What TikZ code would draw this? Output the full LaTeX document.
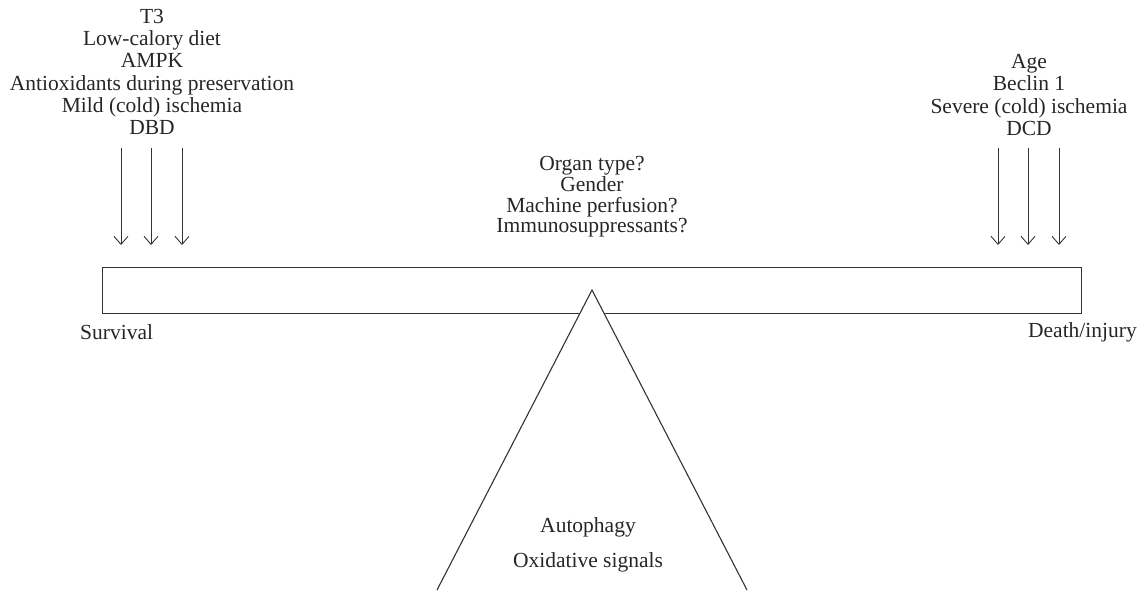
\documentclass[tikz,border=0pt]{standalone}
\usepackage{fontspec}
\setmainfont{Liberation Serif}
\usetikzlibrary{arrows.meta}
\tikzset{
  lbl/.style={align=center, inner sep=0pt, text=black!85, font=\fontsize{21.5}{22.2}\selectfont},
  pushar/.style={draw=black!80, line width=0.9pt, -{Straight Barb[length=8pt,width=14pt,line width=0.9pt]}},
  beam/.style={draw=black!80, line width=1.1pt, fill=white},
}
\begin{document}
\begin{tikzpicture}[x=1pt,y=-1pt]
\useasboundingbox (0,0) rectangle (1142,590);
% beam
\node[beam, anchor=north west, minimum width=979pt, minimum height=46pt, inner sep=0pt] (bar) at (102,267) {};
% fulcrum
\coordinate (apex) at (592,290);
\coordinate (bl) at (437,590);
\coordinate (br) at (747,590);
\fill[white] (bl) -- (apex) -- (br) -- cycle;
\draw[black!80, line width=1.1pt] (bl) -- (apex) -- (br);
% texts
\node[lbl] (left) at (152,72) {T3\\Low-calory diet\\AMPK\\Antioxidants during preservation\\Mild (cold) ischemia\\DBD};
\node[lbl] (right) at (1029,95) {Age\\Beclin 1\\Severe (cold) ischemia\\DCD};
\node[lbl, font=\fontsize{21.5}{20.7}\selectfont] (mid) at (592,197) {Organ type?\\Gender\\Machine perfusion?\\Immunosuppressants?};
\node[lbl, anchor=west] (surv) at (80,332) {Survival};
\node[lbl, anchor=east] (death) at (1137,332) {Death/injury};
\node[lbl, font=\fontsize{21.5}{35}\selectfont] (fulc) at (588,545) {Autophagy\\Oxidative signals};
% arrows
\foreach \i/\x in {1/121,2/151,3/182}{
  \coordinate (ls\i) at (\x,148);
  \coordinate (le\i) at (\x,245);
  \draw[pushar] (ls\i) -- (le\i);
}
\foreach \i/\x in {1/998,2/1028,3/1059}{
  \coordinate (rs\i) at (\x,148);
  \coordinate (re\i) at (\x,245);
  \draw[pushar] (rs\i) -- (re\i);
}
\end{tikzpicture}
\end{document}
